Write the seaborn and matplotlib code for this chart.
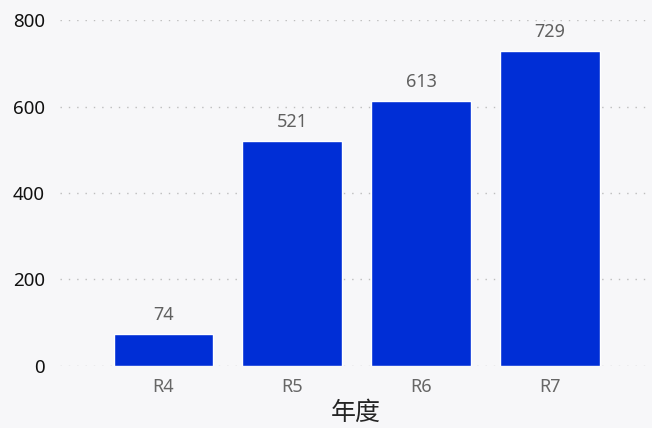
import matplotlib
matplotlib.use("Agg")
import matplotlib.pyplot as plt
import seaborn as sns
import pandas as pd

# chart data
categories = ["R4", "R5", "R6", "R7"]
values = [74, 521, 613, 729]
y_ticks = [0, 200, 400, 600, 800]

BG = "#f7f7f9"
BAR = "#002ed6"

sns.set_theme(style="white")
plt.rcParams["font.family"] = ["Noto Sans", "Noto Sans CJK SC", "DejaVu Sans"]

df = pd.DataFrame({"年度": categories, "件数": values})

fig = plt.figure(figsize=(6.52, 4.28), dpi=100, facecolor=BG)
ax = fig.add_axes([0.092, 0.145, 0.908, 0.808])
ax.set_facecolor(BG)

sns.barplot(data=df, x="年度", y="件数", color=BAR, width=0.77,
            saturation=1, ax=ax, zorder=3)

for c in ax.containers:
    ax.bar_label(c, padding=7, fontsize=13, color="#606060")

ax.set_xlim(-0.8, 3.79)
ax.set_ylim(0, 800)
ax.set_yticks(y_ticks)
ax.set_yticklabels([str(t) for t in y_ticks], fontsize=13.5, color="#111111")
ax.tick_params(axis="y", length=0, pad=11)
ax.tick_params(axis="x", length=0, pad=9, labelsize=13, labelcolor="#666666")

ax.yaxis.grid(True, linestyle=(0, (1, 5)), color="#bdbdbd", linewidth=1, zorder=0)
ax.set_axisbelow(True)
for s in ax.spines.values():
    s.set_visible(False)

ax.set_ylabel("")
ax.set_xlabel("年度", fontsize=18, color="#252525", labelpad=3)

fig.savefig("out.png", dpi=100, facecolor=BG)
